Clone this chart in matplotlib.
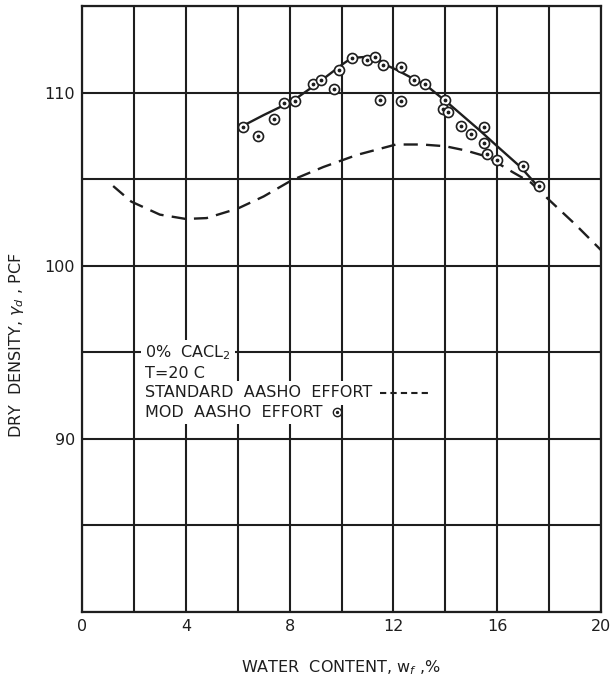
import matplotlib
matplotlib.use("Agg")
import matplotlib.pyplot as plt

# modified AASHO compaction test points (water content %, dry density pcf)
mod_w = [6.2, 6.8, 7.4, 7.8, 8.2, 8.9, 9.2, 9.7, 9.9, 10.4, 11.0, 11.3, 11.6, 12.3,
         11.5, 12.3, 12.8, 13.2, 14.0, 13.9, 14.1, 14.6, 15.0, 15.5, 15.5, 15.6,
         16.0, 17.0, 17.6]
mod_d = [108.0, 107.5, 108.5, 109.4, 109.5, 110.5, 110.75, 110.2, 111.3, 112.0,
         111.9, 112.05, 111.6, 111.45, 109.55, 109.5, 110.75, 110.5, 109.55, 109.05,
         108.9, 108.05, 107.6, 108.0, 107.1, 106.45, 106.1, 105.75, 104.6]

# fitted curve through the modified effort points
mod_curve_w = [6.1, 7.0, 8.1, 9.0, 10.1, 10.4, 11.3, 11.7, 12.1, 13.3, 14.1, 15.3,
               16.0, 16.9, 17.5]
mod_curve_d = [108.0, 108.7, 109.5, 110.45, 111.7, 112.0, 112.1, 111.6, 111.33,
               110.37, 109.4, 107.85, 106.9, 105.7, 104.7]

# standard AASHO effort curve
std_w = [1.2, 1.9, 3.0, 4.0, 4.8, 6.0, 7.0, 8.1, 9.3, 10.6, 12.1, 13.1, 14.0,
         14.8, 15.6, 16.6, 17.3, 18.0, 19.0, 20.0]
std_d = [104.6, 103.7, 102.95, 102.7, 102.75, 103.3, 104.0, 104.95, 105.7, 106.4,
         107.0, 107.0, 106.9, 106.65, 106.3, 105.4, 104.8, 103.8, 102.4, 100.9]

x_ticks = list(range(0, 21, 2))
x_labels = ['0', '', '4', '', '8', '', '12', '', '16', '', '20']
y_ticks = list(range(80, 116, 5))
y_labels = ['', '', '90', '', '100', '', '110', '']

ink = '#1e1e1e'
plt.rcParams['font.family'] = ['DejaVu Sans']
fs = 11.5

fig = plt.figure(figsize=(6.13, 6.88), dpi=100)
ax = fig.add_axes([0.1338, 0.1105, 0.8466, 0.8808])
ax.set_xlim(0, 20)
ax.set_ylim(80, 115)

ax.set_xticks(x_ticks)
ax.set_xticklabels(x_labels)
ax.set_yticks(y_ticks)
ax.set_yticklabels(y_labels)
ax.tick_params(length=0, labelsize=fs, colors=ink, pad=5)
ax.grid(True, color=ink, lw=1.5)
ax.set_axisbelow(True)
for s in ax.spines.values():
    s.set_color(ink)
    s.set_linewidth(1.6)

ax.plot(std_w, std_d, color=ink, lw=1.7, dashes=(6, 3.5), zorder=3)
ax.plot(mod_curve_w, mod_curve_d, color=ink, lw=1.7, zorder=3)
ax.scatter(mod_w, mod_d, s=52, facecolor='white', edgecolor=ink, linewidth=1.2, zorder=4)
ax.scatter(mod_w, mod_d, s=3, color=ink, zorder=5)

# legend block written straight onto the grid
box = dict(facecolor='white', edgecolor='none', pad=3)
tx = 2.43
ax.text(tx, 94.95, r'0%  CACL$_2$', fontsize=fs, va='center', color=ink, bbox=box, zorder=6)
ax.text(tx, 93.75, 'T=20 C', fontsize=fs, va='center', color=ink, bbox=box, zorder=6)
ax.text(tx, 92.65, 'STANDARD  AASHO  EFFORT', fontsize=fs, va='center', color=ink, bbox=box, zorder=6)
ax.text(tx, 91.53, 'MOD  AASHO  EFFORT', fontsize=fs, va='center', color=ink, bbox=box, zorder=6)
ax.plot([11.48, 13.41], [92.67, 92.67], color=ink, lw=1.5, dashes=(3, 2), zorder=7)
ax.scatter([9.81], [91.53], s=36, facecolor='white', edgecolor=ink, linewidth=1.0, zorder=7)
ax.scatter([9.81], [91.53], s=2, color=ink, zorder=8)

fig.text(0.556, 1 - 668 / 688, r'WATER  CONTENT, w$_f$ ,%', fontsize=fs, color=ink,
         ha='center', va='center')
fig.text(17 / 613, 1 - 345 / 688, r'DRY  DENSITY, $\gamma_d$ , PCF', fontsize=fs, color=ink,
         ha='center', va='center', rotation=90)

fig.savefig('out.png', dpi=100)
